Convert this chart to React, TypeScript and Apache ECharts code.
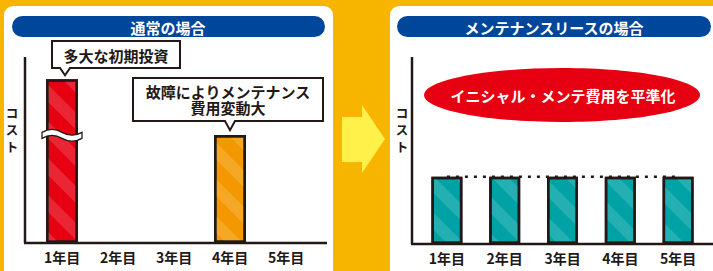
import React, { useEffect, useRef } from "react";
import * as echarts from "echarts";

const categories = ["1年目", "2年目", "3年目", "4年目", "5年目"];
const normalCost: (number | null)[] = [88, null, null, 58, null];
const leaseCost: number[] = [36, 36, 36, 36, 36];
const leftTitle = "通常の場合";
const rightTitle = "メンテナンスリースの場合";
const yNameChars = ["コ", "ス", "ト"];
const callout1 = "多大な初期投資";
const callout2Lines = ["故障によりメンテナンス", "費用変動大"];
const ellipseText = "イニシャル・メンテ費用を平準化";

const FONT = "'Noto Sans CJK JP', 'Noto Sans', sans-serif";
const DARK = "#231815";

echarts.graphic.registerShape(
  "wave",
  echarts.graphic.extendPath(
    "M0,3 C7,-1 13,-1 20,3 C27,7 33,7 40,3 L40,9 C33,13 27,13 20,9 C13,5 7,5 0,9 Z",
    {}
  )
);

const stripe = (c: string) => ({
  symbol: "rect",
  symbolSize: 1,
  dashArrayX: [1, 0],
  dashArrayY: [12, 14],
  rotation: Math.PI / 4,
  color: c,
});

function txt(x: number, y: number, text: string, size: number, fill: string) {
  return {
    type: "text",
    z: 20,
    style: {
      x,
      y,
      text,
      fill,
      font: `bold ${size}px ${FONT}`,
      lineHeight: size,
      align: "center",
      verticalAlign: "middle",
      textAlign: "center",
      textVerticalAlign: "middle",
    },
  };
}

export default function App() {
  const ref = useRef<HTMLDivElement>(null);
  useEffect(() => {
    if (!ref.current) return;
    const chart = echarts.init(ref.current, null, { renderer: "svg" });
    const axisLabel = {
      color: DARK,
      fontSize: 14,
      fontWeight: "bold",
      fontFamily: FONT,
      margin: 7,
    };
    const option: any = {
      animation: false,
      backgroundColor: "#F8B500",
      grid: [
        { left: 34, width: 280, top: 57, height: 186 },
        { left: 418, width: 289, top: 57, height: 187 },
      ],
      xAxis: [0, 1].map((i) => ({
        type: "category",
        gridIndex: i,
        data: categories,
        axisLine: { show: false },
        axisTick: { show: false },
        axisLabel,
        z: 5,
      })),
      yAxis: [0, 1].map((i) => ({
        type: "value",
        gridIndex: i,
        min: 0,
        max: 100,
        show: false,
      })),
      series: [
        {
          type: "bar",
          xAxisIndex: 0,
          yAxisIndex: 0,
          barWidth: 32,
          z: 3,
          data: normalCost.map((v, i) =>
            v == null
              ? null
              : {
                  value: v,
                  itemStyle: {
                    color: i === 0 ? "#E60012" : "#F39800",
                    decal: stripe("rgba(255,255,255,0.15)"),
                  },
                }
          ),
          itemStyle: { borderColor: DARK, borderWidth: 2.5 },
        },
        {
          type: "line",
          xAxisIndex: 1,
          yAxisIndex: 1,
          data: leaseCost,
          symbol: "none",
          z: 2,
          lineStyle: { color: DARK, width: 2.5, type: [3, 6] },
        },
        {
          type: "bar",
          xAxisIndex: 1,
          yAxisIndex: 1,
          barWidth: 31,
          z: 3,
          data: leaseCost,
          itemStyle: {
            color: "#00A2A6",
            borderColor: DARK,
            borderWidth: 2.5,
            decal: stripe("rgba(255,255,255,0.14)"),
          },
        },
      ],
    };
    chart.setOption(option);

    const b1 = chart.convertToPixel({ seriesIndex: 0 }, [0, normalCost[0] as number]);
    const b4 = chart.convertToPixel({ seriesIndex: 0 }, [3, normalCost[3] as number]);

    const callout = (x0: number, y0: number, x1: number, y1: number, px: number, tip: number) => ({
      type: "polygon",
      z: 15,
      shape: {
        points: [
          [x0, y0],
          [x1, y0],
          [x1, y1],
          [px + 5, y1],
          [px, tip],
          [px - 5, y1],
          [x0, y1],
        ],
      },
      style: { fill: "#fff", stroke: DARK, lineWidth: 2 },
    });

    const graphic: any[] = [
      { type: "rect", z: -1, shape: { x: 4, y: 6, width: 329, height: 290, r: 9 }, style: { fill: "#fff" } },
      { type: "rect", z: -1, shape: { x: 390, y: 6, width: 340, height: 290, r: 9 }, style: { fill: "#fff" } },
      { type: "rect", z: 1, shape: { x: 12, y: 16, width: 313, height: 21, r: 10.5 }, style: { fill: "#00469B" } },
      { type: "rect", z: 1, shape: { x: 397, y: 16, width: 314, height: 21, r: 10.5 }, style: { fill: "#00469B" } },
      txt(168, 27, leftTitle, 15, "#fff"),
      txt(554, 27, rightTitle, 15, "#fff"),
      // arrow
      {
        type: "polygon",
        z: 1,
        shape: {
          points: [
            [342, 117],
            [362, 117],
            [362, 105],
            [385, 139],
            [362, 173],
            [362, 162],
            [342, 162],
          ],
        },
        style: { fill: "#FFF04A" },
      },
      // axes lines
      { type: "line", z: 6, shape: { x1: 25, y1: 57, x2: 25, y2: 243 }, style: { stroke: DARK, lineWidth: 2.5 } },
      { type: "line", z: 6, shape: { x1: 24, y1: 243, x2: 327, y2: 243 }, style: { stroke: DARK, lineWidth: 2.5 } },
      { type: "line", z: 6, shape: { x1: 412, y1: 57, x2: 412, y2: 244 }, style: { stroke: DARK, lineWidth: 2.5 } },
      { type: "line", z: 6, shape: { x1: 411, y1: 244, x2: 713, y2: 244 }, style: { stroke: DARK, lineWidth: 2.5 } },
      ...yNameChars.map((c, i) => txt(12, 112 + i * 17, c, 12.5, DARK)),
      ...yNameChars.map((c, i) => txt(402, 112 + i * 17, c, 12.5, DARK)),
      // callouts
      callout(52, 41, 180, 68, b1[0] + 3, b1[1] - 4),
      txt(116, 55, callout1, 15, DARK),
      callout(133, 78, 323, 121, b4[0], b4[1] - 5),
      ...callout2Lines.map((l, i) => txt(228, 91 + i * 16, l, 15, DARK)),
      // wave break
      {
        type: "wave",
        z: 12,
        x: b1[0] - 20,
        y: b1[1] + 50,
        style: { fill: "#fff", stroke: DARK, lineWidth: 1.3 },
      },
      // ellipse
      {
        type: "ellipse",
        z: 10,
        shape: { cx: 562, cy: 95, rx: 138, ry: 27 },
        style: { fill: "#E60012" },
      },
      txt(563, 95, ellipseText, 15, "#fff"),
    ];
    chart.setOption({ graphic });
    return () => chart.dispose();
  }, []);
  return (
    <div
      ref={ref}
      style={{ position: "fixed", left: 0, top: 0, width: 713, height: 271 }}
    />
  );
}
